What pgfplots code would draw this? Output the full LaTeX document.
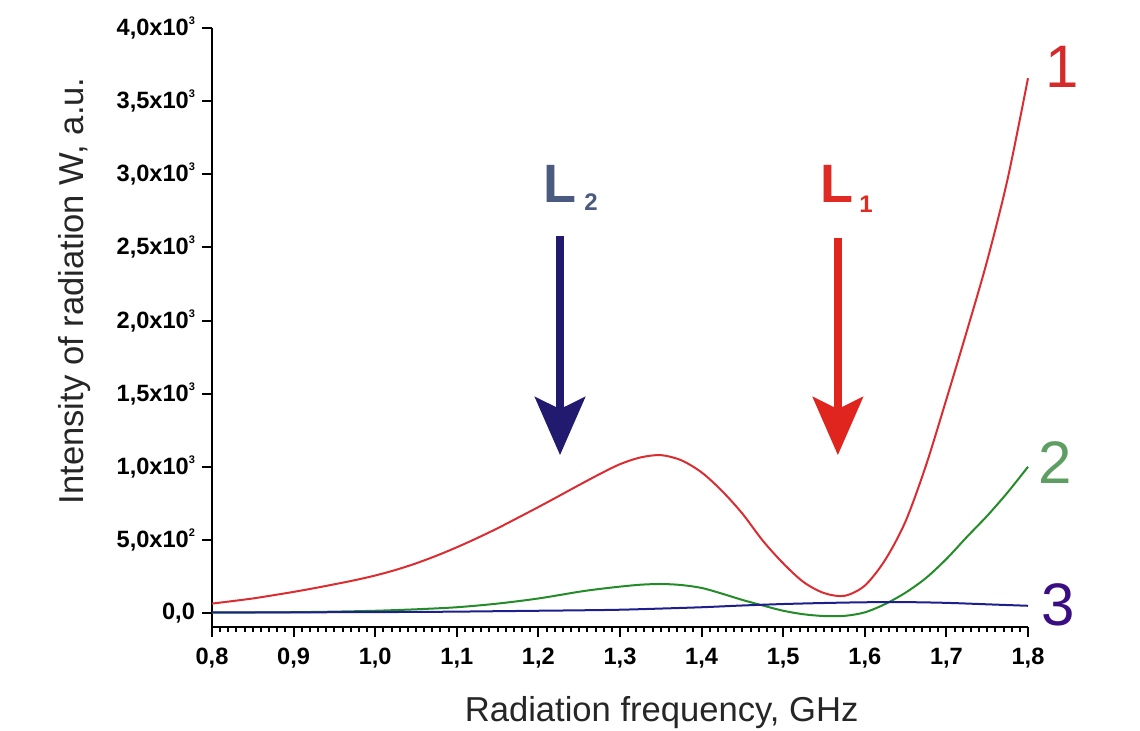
\documentclass[border=0pt]{standalone}
\usepackage{pgfplots}
\pgfplotsset{compat=1.18}
\usepackage{pgfplotstable}
\usepackage{fontspec}
\setmainfont{Liberation Sans}
\usetikzlibrary{arrows.meta}

\definecolor{cred}{RGB}{218,45,50}
\definecolor{cgreen}{RGB}{35,140,40}
\definecolor{cblue}{RGB}{30,30,140}
\definecolor{arrblue}{RGB}{34,26,110}
\definecolor{arrred}{RGB}{224,36,30}
\definecolor{lblL2}{RGB}{75,91,128}
\definecolor{lblL1}{RGB}{224,42,36}
\definecolor{lbl1}{RGB}{212,42,42}
\definecolor{lbl2}{RGB}{94,158,98}
\definecolor{lbl3}{RGB}{58,14,130}

\pgfplotstableread{
x y
0.800 65
0.825 82
0.850 100
0.875 122
0.900 145
0.925 170
0.950 197
0.975 225
1.000 257
1.025 295
1.050 340
1.075 392
1.100 450
1.125 513
1.150 580
1.175 652
1.200 725
1.225 800
1.250 876
1.275 950
1.300 1018
1.325 1064
1.350 1080
1.375 1045
1.400 962
1.425 835
1.450 680
1.475 495
1.500 340
1.525 212
1.550 137
1.575 118
1.600 188
1.625 364
1.650 628
1.675 1010
1.700 1462
1.725 1927
1.750 2410
1.775 2967
1.800 3657
}\redtab

\pgfplotstableread{
x y
0.800 3
0.850 4
0.900 6
0.950 10
1.000 16
1.050 26
1.100 40
1.150 65
1.200 100
1.250 146
1.275 165
1.300 181
1.325 194
1.350 199
1.375 192
1.400 172
1.425 133
1.450 90
1.475 52
1.500 16
1.525 -8
1.550 -20
1.575 -19
1.600 5
1.625 62
1.650 140
1.675 240
1.700 370
1.725 520
1.750 665
1.775 825
1.800 1000
}\greentab

\pgfplotstableread{
x y
0.80 5
0.85 5
0.90 5
0.95 6
1.00 7
1.05 8
1.10 10
1.15 13
1.20 16
1.25 19
1.30 23
1.35 31
1.40 40
1.45 52
1.50 62
1.55 69
1.60 74
1.65 75
1.70 70
1.75 60
1.80 50
}\bluetab

\begin{document}
\begin{tikzpicture}
\useasboundingbox (-106pt,-52pt) rectangle (464pt,313.5pt);
\begin{axis}[
  scale only axis,
  width=408pt, height=299.5pt,
  xmin=0.8, xmax=1.8, ymin=-95, ymax=4000,
  axis lines=left,
  axis line style={-, line width=1pt, black},
  tick style={line width=1pt, black},
  tick align=outside,
  major tick length=5pt,
  minor tick length=2.5pt,
  xtick={0.8,0.9,1.0,1.1,1.2,1.3,1.4,1.5,1.6,1.7,1.8},
  xticklabels={{0,8},{0,9},{1,0},{1,1},{1,2},{1,3},{1,4},{1,5},{1,6},{1,7},{1,8}},
  minor x tick num=9,
  ytick={0,500,1000,1500,2000,2500,3000,3500,4000},
  yticklabels={{0,0},
    {5,0x10\raisebox{5.5pt}{\fontsize{5.5}{6}\selectfont 2}},
    {1,0x10\raisebox{5.5pt}{\fontsize{5.5}{6}\selectfont 3}},
    {1,5x10\raisebox{5.5pt}{\fontsize{5.5}{6}\selectfont 3}},
    {2,0x10\raisebox{5.5pt}{\fontsize{5.5}{6}\selectfont 3}},
    {2,5x10\raisebox{5.5pt}{\fontsize{5.5}{6}\selectfont 3}},
    {3,0x10\raisebox{5.5pt}{\fontsize{5.5}{6}\selectfont 3}},
    {3,5x10\raisebox{5.5pt}{\fontsize{5.5}{6}\selectfont 3}},
    {4,0x10\raisebox{5.5pt}{\fontsize{5.5}{6}\selectfont 3}}},
  xticklabel style={font=\bfseries\fontsize{11.8}{14}\selectfont, yshift=-2pt},
  yticklabel style={font=\bfseries\fontsize{11.8}{14}\selectfont},
  xlabel={Radiation frequency, GHz},
  ylabel={Intensity of radiation W, a.u.},
  xlabel style={font=\fontsize{17.3}{20}\selectfont, color=black!85, at={(axis description cs:0.551,-0.142)}, anchor=center},
  ylabel style={font=\fontsize{17.3}{20}\selectfont, color=black!85, at={(axis description cs:-0.169,0.561)}, anchor=center},
  clip=false,
]
\addplot[cred, line width=1pt, smooth] table[x=x,y=y] {\redtab};
\addplot[cgreen, line width=1pt, smooth] table[x=x,y=y] {\greentab};
\addplot[cblue, line width=1pt, smooth] table[x=x,y=y] {\bluetab};

\draw[arrblue, line width=4pt, -{Stealth[width=25pt,length=29pt,inset=6pt]}] (axis cs:1.2265,2580) -- (axis cs:1.2265,1080);
\draw[arrred, line width=4pt, -{Stealth[width=25pt,length=29pt,inset=6pt]}] (axis cs:1.567,2565) -- (axis cs:1.567,1080);

\node[anchor=base west, inner sep=0pt, color=lblL2, font=\bfseries] at (axis cs:1.2056,2805)
  {{\fontsize{27}{27}\selectfont L}\hspace{4pt}\raisebox{-4pt}{\fontsize{12}{12}\selectfont 2}};
\node[anchor=base west, inner sep=0pt, color=lblL1, font=\bfseries] at (axis cs:1.545,2805)
  {{\fontsize{27}{27}\selectfont L}\hspace{3pt}\raisebox{-5pt}{\fontsize{12}{12}\selectfont 1}};

\node[color=lbl1, font=\fontsize{30}{30}\selectfont] at (axis cs:1.842,3733) {1};
\node[color=lbl2, font=\fontsize{30}{30}\selectfont] at (axis cs:1.833,1032) {2};
\node[color=lbl3, font=\fontsize{30}{30}\selectfont] at (axis cs:1.837,57) {3};
\end{axis}
\end{tikzpicture}
\end{document}
